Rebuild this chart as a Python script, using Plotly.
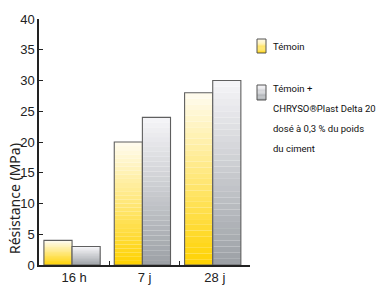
import plotly.graph_objects as go

categories = ["16 h", "7 j", "28 j"]
temoin = [4, 20, 28]
chryso = [3, 24, 30]
y_ticks = [0, 5, 10, 15, 20, 25, 30, 35, 40]

series_names = ["Témoin", "Témoin + CHRYSO®Plast Delta 20 dosé à 0,3 % du poids du ciment"]
legend_lines = [["Témoin"], ["Témoin +", "CHRYSO®Plast Delta 20", "dosé à 0,3 % du poids", "du ciment"]]

N = 30

def lerp(c1, c2, t):
    return "rgb(%d,%d,%d)" % tuple(round(a + (b - a) * t) for a, b in zip(c1, c2))

yellow_bot, yellow_top = (255, 210, 0), (255, 252, 240)
gray_bot, gray_top = (155, 160, 165), (246, 245, 248)

fig = go.Figure()
W = 0.4
for vals, (cb, ct), off in [(temoin, (yellow_bot, yellow_top), -0.43), (chryso, (gray_bot, gray_top), -0.03)]:
    for i in range(N):
        t = (i + 0.5) / N
        fig.add_trace(go.Bar(
            x=categories, y=[v / N for v in vals], base=[v * i / N for v in vals],
            width=W, offset=off, marker=dict(color=lerp(cb, ct, t), line=dict(width=0)),
            showlegend=False, hoverinfo="skip"))
    fig.add_trace(go.Bar(
        x=categories, y=vals, width=W, offset=off,
        marker=dict(color="rgba(0,0,0,0)", line=dict(color="#5f5f5f", width=1.1)),
        showlegend=False, hoverinfo="skip"))

tick_font = dict(family="Liberation Sans, Arial, sans-serif", size=13, color="#222")
fig.update_layout(
    width=376, height=293, barmode="overlay",
    margin=dict(l=39, r=126, t=19, b=28),
    plot_bgcolor="white", paper_bgcolor="white",
    xaxis=dict(range=[-0.5, 2.5], showline=True, linecolor="#222", linewidth=1.5,
               ticks="inside", ticklen=4, tickcolor="#222", tickson="boundaries",
               tickfont=tick_font, showgrid=False, fixedrange=True, automargin=False),
    yaxis=dict(range=[0, 40], tickvals=y_ticks, showline=True, linecolor="#222", linewidth=1.5,
               ticks="inside", ticklen=4, tickcolor="#222", tickfont=tick_font,
               showgrid=False, zeroline=False, fixedrange=True, automargin=False),
)

PW, PH, ML, MB = 376 - 39 - 126, 293 - 19 - 28, 39, 28
px_x = lambda px: (px - ML) / PW
px_y = lambda py: (293 - MB - py) / PH

fig.add_annotation(text="Résistance (MPa)", textangle=-90, xref="paper", yref="paper",
                   x=px_x(14), y=px_y(199), xanchor="center", yanchor="middle",
                   showarrow=False, font=dict(family="Noto Sans, sans-serif", size=14, color="#222"))

# manual legend
legend_font = dict(family="Roboto, sans-serif", size=9.5, color="#111")
sw = [((yellow_bot, yellow_top), 39, 53), ((gray_bot, gray_top), 85, 100)]
for (cb, ct), y0, y1 in sw:
    M = 12
    for i in range(M):
        t = (i + 0.5) / M
        fig.add_shape(type="rect", xref="paper", yref="paper",
                      x0=px_x(257), x1=px_x(266),
                      y0=px_y(y1 - (y1 - y0) * i / M), y1=px_y(y1 - (y1 - y0) * (i + 1) / M),
                      fillcolor=lerp(cb, ct, t), line=dict(width=0))
    fig.add_shape(type="rect", xref="paper", yref="paper", x0=px_x(257), x1=px_x(266),
                  y0=px_y(y1), y1=px_y(y0), line=dict(color="#555", width=1))

line_y = [[46], [88, 108, 128, 148]]
for lines, ys in zip(legend_lines, line_y):
    for txt, yy in zip(lines, ys):
        fig.add_annotation(text=txt, xref="paper", yref="paper", x=px_x(271), y=px_y(yy),
                           xanchor="left", yanchor="middle", showarrow=False, font=legend_font)

fig.write_html("out.html", config={"displayModeBar": False},
               post_script="document.body.style.margin='0';document.body.style.overflow='hidden';")
